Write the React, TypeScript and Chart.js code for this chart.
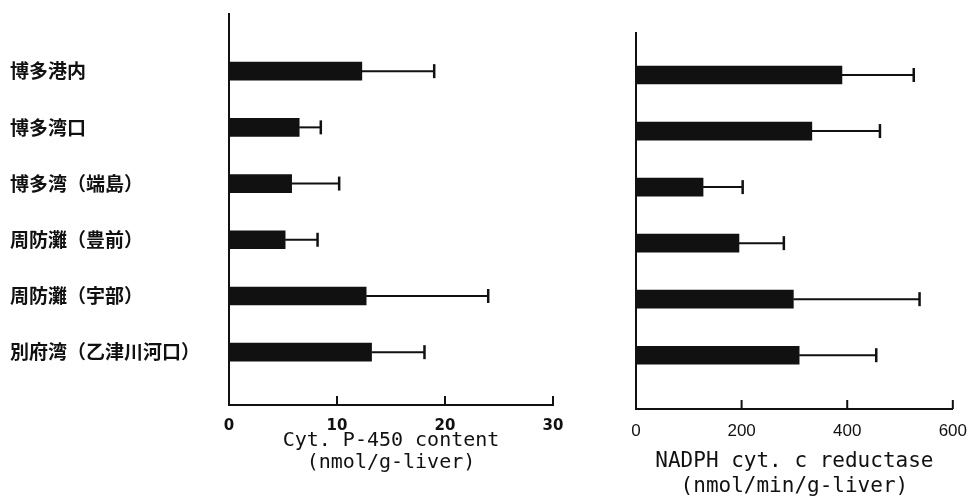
import React, { useEffect, useRef } from "react";
import { Chart, registerables } from "chart.js";

Chart.register(...registerables);

const categories = [
  "博多港内",
  "博多湾口",
  "博多湾（端島）",
  "周防灘（豊前）",
  "周防灘（宇部）",
  "別府湾（乙津川河口）",
];

const p450Values = [12.3, 6.5, 5.8, 5.2, 12.7, 13.2];
const p450Errors = [6.7, 2.0, 4.4, 3.0, 11.3, 4.9];

const reductaseValues = [390, 333, 127, 195, 298, 309];
const reductaseErrors = [136, 129, 75, 85, 239, 146];

const p450Ticks = [0, 10, 20, 30];
const reductaseTicks = [0, 200, 400, 600];

const p450Title = ["Cyt. P-450 content", "(nmol/g-liver)"];
const reductaseTitle = ["NADPH cyt. c reductase", "(nmol/min/g-liver)"];

const INK = "#111111";

const errorBarPlugin = {
  id: "errorBars",
  afterDatasetsDraw(chart: any) {
    const ctx = chart.ctx;
    const xs = chart.scales.x;
    const ys = chart.scales.y;
    chart.data.datasets.forEach((ds: any) => {
      const errs: number[] = ds.errors || [];
      ds.data.forEach((pt: any, i: number) => {
        const x0 = xs.getPixelForValue(pt.x);
        const x1 = xs.getPixelForValue(pt.x + errs[i]);
        const y = ys.getPixelForValue(pt.y);
        ctx.save();
        ctx.strokeStyle = INK;
        ctx.lineWidth = 2;
        ctx.beginPath();
        ctx.moveTo(x0, y);
        ctx.lineTo(x1, y);
        ctx.stroke();
        ctx.lineWidth = 2.5;
        ctx.beginPath();
        ctx.moveTo(x1, y - 7);
        ctx.lineTo(x1, y + 7);
        ctx.stroke();
        ctx.restore();
      });
    });
  },
};

const innerTickPlugin = {
  id: "innerTicks",
  afterDraw(chart: any) {
    const ctx = chart.ctx;
    const xs = chart.scales.x;
    const bottom = chart.chartArea.bottom;
    ctx.save();
    ctx.strokeStyle = INK;
    ctx.lineWidth = 2;
    xs.ticks.forEach((t: any) => {
      if (t.value === 0) return;
      const x = xs.getPixelForValue(t.value);
      ctx.beginPath();
      ctx.moveTo(x, bottom);
      ctx.lineTo(x, bottom - 9);
      ctx.stroke();
    });
    ctx.restore();
  },
};

type PanelProps = {
  width: number;
  values: number[];
  errors: number[];
  ticks: number[];
  title: string[];
  showLabels: boolean;
  padding: { left: number; right: number; top: number; bottom: number };
  yAxisWidth: number;
  xAxisHeight: number;
  yMin: number;
  yMax: number;
  tickFont: any;
  tickPadding: number;
  titleFont: any;
  titlePadBottom: number;
};

function Panel(props: PanelProps) {
  const ref = useRef<HTMLCanvasElement | null>(null);
  useEffect(() => {
    if (!ref.current) return;
    const data = props.values.map((v, i) => ({ x: v, y: i }));
    const chart = new Chart(ref.current, {
      type: "bar",
      data: {
        datasets: [
          {
            data: data as any,
            errors: props.errors,
            backgroundColor: INK,
            borderWidth: 0,
            barThickness: 18,
          } as any,
        ],
      },
      options: {
        indexAxis: "y",
        responsive: false,
        animation: false,
        layout: { padding: props.padding },
        plugins: {
          legend: { display: false },
          tooltip: { enabled: false },
        },
        scales: {
          x: {
            type: "linear",
            offset: false,
            min: props.ticks[0],
            max: props.ticks[props.ticks.length - 1],
            afterBuildTicks: (scale: any) => {
              scale.ticks = props.ticks.map((v) => ({ value: v }));
            },
            afterFit: (scale: any) => {
              scale.height = props.xAxisHeight;
            },
            grid: { display: false, drawTicks: false },
            border: { display: true, color: INK, width: 2 },
            ticks: {
              color: INK,
              font: props.tickFont,
              padding: props.tickPadding,
              maxRotation: 0,
              autoSkip: false,
            },
            title: {
              display: true,
              text: props.title,
              color: INK,
              font: props.titleFont,
              padding: { top: 0, bottom: props.titlePadBottom },
            },
          },
          y: {
            type: "linear",
            offset: false,
            reverse: true,
            min: props.yMin,
            max: props.yMax,
            afterBuildTicks: (scale: any) => {
              scale.ticks = categories.map((_, i) => ({ value: i }));
            },
            afterFit: (scale: any) => {
              scale.width = props.yAxisWidth;
            },
            grid: { display: false, drawTicks: false, offset: false },
            border: { display: true, color: INK, width: 2 },
            ticks: {
              display: props.showLabels,
              crossAlign: "far",
              color: INK,
              autoSkip: false,
              font: { family: "'Noto Sans CJK JP'", size: 19, weight: "bold" },
              callback: (v: any) => categories[v as number] ?? "",
            },
          },
        },
      } as any,
      plugins: [errorBarPlugin, innerTickPlugin],
    });
    return () => chart.destroy();
  }, []);
  return <canvas ref={ref} width={props.width} height={499} style={{ display: "block" }} />;
}

export default function App() {
  return (
    <div
      style={{
        position: "absolute",
        left: 0,
        top: 0,
        width: 979,
        height: 499,
        background: "#ffffff",
        display: "flex",
      }}
    >
      <Panel
        width={590}
        values={p450Values}
        errors={p450Errors}
        ticks={p450Ticks}
        title={p450Title}
        showLabels={true}
        padding={{ left: 10, right: 37, top: 14, bottom: 0 }}
        yAxisWidth={219}
        xAxisHeight={94}
        yMin={-1.01}
        yMax={5.94}
        tickFont={{ family: "'DejaVu Sans'", size: 15, weight: "bold" }}
        tickPadding={12}
        titleFont={{ family: "'DejaVu Sans Mono'", size: 20, lineHeight: 1.1 }}
        titlePadBottom={25}
      />
      <Panel
        width={389}
        values={reductaseValues}
        errors={reductaseErrors}
        ticks={reductaseTicks}
        title={reductaseTitle}
        showLabels={false}
        padding={{ left: 46, right: 17, top: 33, bottom: 0 }}
        yAxisWidth={0}
        xAxisHeight={90}
        yMin={-0.75}
        yMax={5.96}
        tickFont={{ family: "'Liberation Sans'", size: 17 }}
        tickPadding={12}
        titleFont={{ family: "'DejaVu Sans Mono'", size: 21, lineHeight: 1.2 }}
        titlePadBottom={0}
      />
    </div>
  );
}
